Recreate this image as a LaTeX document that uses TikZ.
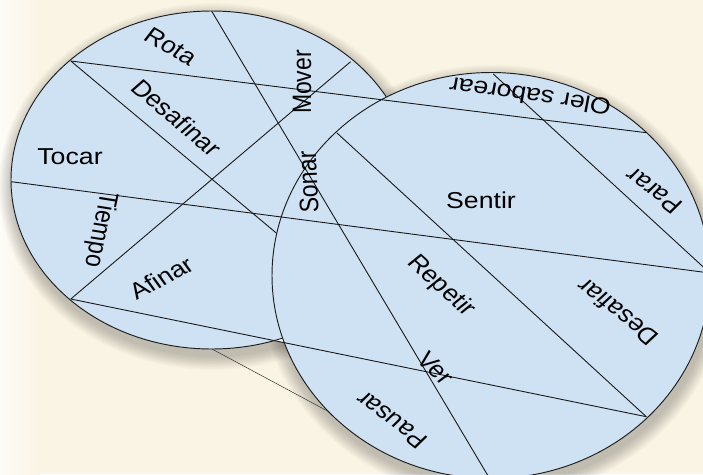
\documentclass[tikz,border=0pt]{standalone}
\usepackage{fontspec}
\setmainfont{Liberation Sans}
\definecolor{bgcream}{RGB}{250,244,228}
\definecolor{discblue}{RGB}{207,226,243}
\begin{document}
\begin{tikzpicture}[x=1pt,y=-1pt,line join=round,
  lbl/.style={font=\fontsize{23}{27}\selectfont, inner sep=0pt, text height=0.72em, text depth=0pt, xscale=1.16, text=black},
  chord/.style={draw=black!90, line width=0.9pt},
  disc/.style={fill=discblue, draw=black!88, line width=0.95pt}]
\useasboundingbox (0,0) rectangle (703,474);
\clip (0,0) rectangle (703,474);
\fill[bgcream] (0,0) rectangle (703,474);
\shade[left color=white!70!bgcream, right color=bgcream] (0,0) rectangle (40,474);
% soft shadow
\foreach \i in {1,...,12} {
  \fill[black, opacity=0.021] (213.6,186.5) ellipse [x radius=200.6+\i*1.2, y radius=169+\i*1.2];
  \fill[black, opacity=0.021] (493,282) ellipse [x radius=219+\i*1.2, y radius=203+\i*1.2];
}
% small white gap between the discs
\fill[white] (274.5,340.7) -- (282.8,337.3) -- (284.6,342.9) -- cycle;
% chord end points
\coordinate (a1) at (70.8,61);
\coordinate (a2) at (646.3,132.7);
\coordinate (b1) at (11.2,181.7);
\coordinate (b2) at (709.8,273);
\coordinate (c1) at (70.8,299);
\coordinate (c2) at (646.3,416.7);
\coordinate (l1) at (211.6,11);
\coordinate (l2) at (489.9,479);
\coordinate (m2) at (350.6,61.7);
\coordinate (d2) at (290,244.5);
\coordinate (r1a) at (337,133);
\coordinate (r2a) at (493.3,74);
\coordinate (t1) at (211.6,348.8);
\coordinate (t2) at (331.8,413.3);
% tangent line
\draw[black!80, line width=0.5pt] (t1) -- (t2);
% left disc
\path[disc] (211.6,180) ellipse [x radius=200.6, y radius=169];
\draw[chord] (c1) -- (m2);
\draw[chord] (a1) -- (d2);
% right disc
\path[disc] (491,275.5) ellipse [x radius=219, y radius=203];
% chords over both discs
\draw[chord] (a1) -- (a2);
\draw[chord] (b1) -- (b2);
\draw[chord] (c1) -- (c2);
\draw[chord] (l1) -- (l2);
\draw[chord] (r1a) -- (c2);
\draw[chord] (r2a) -- (b2);
% labels
\node[lbl, rotate=-33.6] (rota) at (168,50) {Rota};
\node[lbl, rotate=-44.5] (desafinar) at (173,121) {Desafinar};
\node[lbl] (tocar) at (70,160.5) {Tocar};
\node[lbl, rotate=-100.5] (tiempo) at (97,229) {Tiempo};
\node[lbl, rotate=31.9] (afinar) at (164,282) {Afinar};
\node[lbl, rotate=90] (mover) at (307,82) {Mover};
\node[lbl, rotate=92.3] (sonar) at (313,182) {Sonar};
\node[lbl] (sentir) at (481,205) {Sentir};
\node[lbl, rotate=170.8] (oler) at (531,92) {Oler saborear};
\node[lbl, rotate=139.1] (parar) at (657,188) {Parar};
\node[lbl, rotate=137.1] (desafiar) at (621,309) {Desafiar};
\node[lbl, rotate=-46.7] (repetir) at (439,288) {Repetir};
\node[lbl, rotate=-49] (ver) at (432,371) {Ver};
\node[lbl, rotate=138.6] (pausar) at (395,417) {Pausar};
\end{tikzpicture}
\end{document}
